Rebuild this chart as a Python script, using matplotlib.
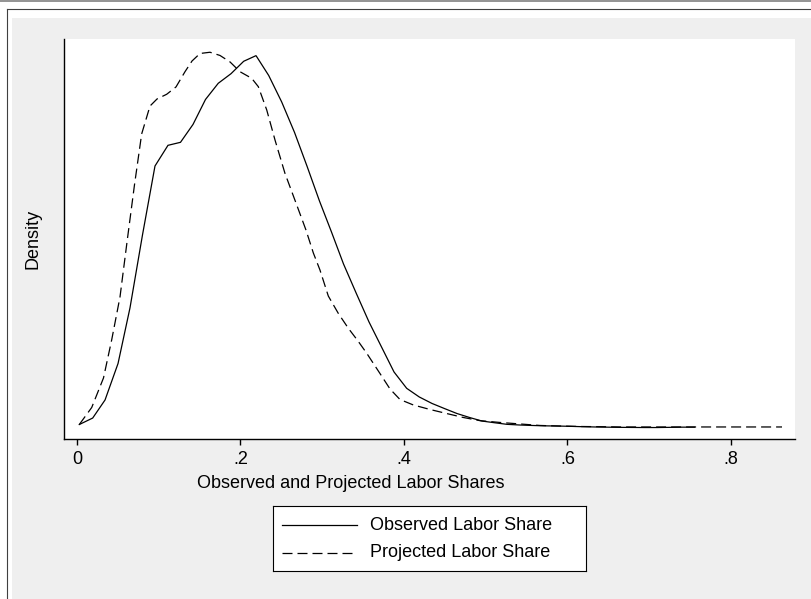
import matplotlib
matplotlib.use('Agg')
import matplotlib.pyplot as plt
from matplotlib.lines import Line2D
from matplotlib.patches import Rectangle

plt.rcParams['font.family'] = ['Liberation Sans', 'DejaVu Sans']
plt.rcParams['lines.scale_dashes'] = False

# kernel density curves
obs_x = [0.0028, 0.0192, 0.0343, 0.0502, 0.0648, 0.0801, 0.0954, 0.1113, 0.1266, 0.1419,
         0.1572, 0.1728, 0.1884, 0.2039, 0.2190, 0.2345, 0.2504, 0.2661, 0.2813, 0.2966,
         0.3113, 0.3260, 0.3417, 0.3572, 0.3725, 0.3878, 0.4033, 0.4187, 0.4343, 0.4495,
         0.4648, 0.4801, 0.4954, 0.5107, 0.5260, 0.5413, 0.5566, 0.5719, 0.5872, 0.6024,
         0.6177, 0.6330, 0.6483, 0.6636, 0.6789, 0.6942, 0.7095, 0.7248, 0.7401, 0.7554]
obs_y = [0.037, 0.106, 0.298, 0.686, 1.277, 2.053, 2.787, 3.007, 3.039, 3.229,
         3.495, 3.667, 3.769, 3.901, 3.961, 3.750, 3.468, 3.144, 2.787, 2.415,
         2.085, 1.745, 1.431, 1.128, 0.862, 0.596, 0.422, 0.330, 0.261, 0.207,
         0.154, 0.112, 0.074, 0.056, 0.039, 0.032, 0.027, 0.023, 0.021, 0.018,
         0.014, 0.011, 0.009, 0.007, 0.006, 0.005, 0.005, 0.007, 0.009, 0.009]

proj_x = [0.0028, 0.0180, 0.0324, 0.0424, 0.0526, 0.0615, 0.0703, 0.0791, 0.0893, 0.0979,
          0.1097, 0.1211, 0.1321, 0.1407, 0.1505, 0.1627, 0.1749, 0.1872, 0.1994, 0.2137,
          0.2218, 0.2321, 0.2422, 0.2544, 0.2688, 0.2801, 0.2891, 0.2972, 0.3074, 0.3196,
          0.3319, 0.3437, 0.3544, 0.3706, 0.3829, 0.3951, 0.4114, 0.4318, 0.4522, 0.4725,
          0.4930, 0.5174, 0.5419, 0.5664, 0.5908, 0.6153, 0.6398, 0.6642, 0.6887, 0.7131,
          0.7376, 0.7621, 0.7865, 0.8110, 0.8355, 0.8624]
proj_y = [0.037, 0.218, 0.532, 0.936, 1.394, 2.000, 2.585, 3.128, 3.425, 3.500,
          3.550, 3.628, 3.790, 3.904, 3.984, 3.997, 3.963, 3.894, 3.790, 3.720,
          3.631, 3.383, 3.064, 2.709, 2.372, 2.106, 1.862, 1.681, 1.404, 1.220,
          1.061, 0.926, 0.795, 0.580, 0.415, 0.303, 0.245, 0.197, 0.154, 0.112,
          0.078, 0.059, 0.043, 0.027, 0.021, 0.016, 0.014, 0.011, 0.011, 0.011,
          0.011, 0.011, 0.011, 0.011, 0.011, 0.011]

x_ticks = [0, 0.2, 0.4, 0.6, 0.8]
x_tick_labels = ['0', '.2', '.4', '.6', '.8']
series_labels = ['Observed Labor Share', 'Projected Labor Share']

W, H = 812, 599
C_BG = '#efefef'
FS = 13

fig = plt.figure(figsize=(W / 100, H / 100), dpi=100)
fig.patch.set_facecolor('white')

# window-like frame around the graph
fig.add_artist(Line2D([0, 1], [1 - 0.5 / H, 1 - 0.5 / H], color='#808080', lw=1.2))
fig.add_artist(Line2D([6.5 / W, 6.5 / W], [0, 1 - 9 / H], color='#404040', lw=0.8))
fig.add_artist(Line2D([6.5 / W, 1], [1 - 9 / H, 1 - 9 / H], color='#404040', lw=0.8))
fig.add_artist(Rectangle((12 / W, 0), 1 - 12 / W, 1 - 18 / H,
                         transform=fig.transFigure, facecolor=C_BG, edgecolor='none', zorder=0))

# plot region
ax = fig.add_axes([64 / W, 1 - 439 / H, (795 - 64) / W, (439 - 39) / H])
ax.set_facecolor('white')
ax.plot(obs_x, obs_y, color='black', lw=0.9, solid_joinstyle='miter')
ax.plot(proj_x, proj_y, color='black', lw=0.9, dashes=(7.2, 3.6))

ax.set_xlim(-0.0159, 0.8783)
ax.set_ylim(-0.117, 4.138)
ax.set_xticks(x_ticks)
ax.set_xticklabels(x_tick_labels)
ax.set_yticks([])
ax.tick_params(axis='x', direction='out', length=4.3, width=1.0, pad=4.5,
               labelsize=FS, colors='black')
for s in ['top', 'right']:
    ax.spines[s].set_visible(False)
for s in ['left', 'bottom']:
    ax.spines[s].set_linewidth(1.0)

fig.text(350.5 / W, 1 - 483 / H, 'Observed and Projected Labor Shares',
         ha='center', va='center', fontsize=FS)
fig.text(33 / W, 1 - 239 / H, 'Density', rotation=90,
         ha='center', va='center', fontsize=FS)

# legend box
lx0, ly0, lx1, ly1 = 272.7, 505.7, 586.0, 571.0
lax = fig.add_axes([lx0 / W, 1 - ly1 / H, (lx1 - lx0) / W, (ly1 - ly0) / H])
lax.set_xlim(0, lx1 - lx0)
lax.set_ylim(ly1 - ly0, 0)
lax.set_xticks([])
lax.set_yticks([])
lax.set_facecolor('white')
for s in lax.spines.values():
    s.set_linewidth(0.8)
    s.set_color('black')
row_y = [525 - ly0, 552.7 - ly0]
styles = [dict(), dict(dashes=(7.2, 3.6))]
for lab, yy, st in zip(series_labels, row_y, styles):
    lax.plot([281.7 - lx0, 356.7 - lx0], [yy, yy], color='black', lw=0.9, **st)
    lax.text(370 - lx0, yy, lab, ha='left', va='center', fontsize=FS)

fig.savefig('out.png', dpi=100, facecolor=fig.get_facecolor())
